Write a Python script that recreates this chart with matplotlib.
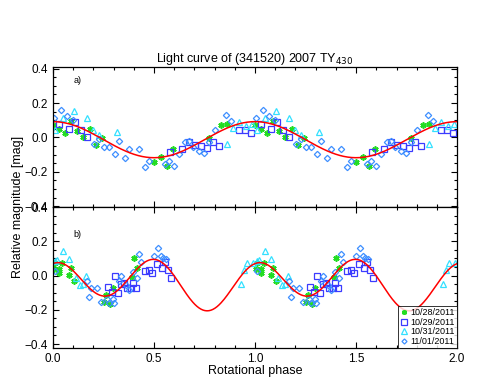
import numpy as np
import matplotlib
matplotlib.use('Agg')
import matplotlib.pyplot as plt
from matplotlib.ticker import MultipleLocator

plt.rcParams['font.family'] = ['Liberation Sans', 'DejaVu Sans']

# ── data (phase 0-1, repeated at +1) ────────────────────────────────────────
dates = ['10/28/2011', '10/29/2011', '10/31/2011', '11/01/2011']

# panel a) single-period fold
a_ph_1028 = [0.002, 0.028, 0.059, 0.087, 0.120, 0.150, 0.183, 0.213, 0.244,
             0.500, 0.533, 0.563, 0.592, 0.771, 0.830, 0.863]
a_mag_1028 = [0.074, 0.050, 0.023, 0.094, 0.035, 0.000, 0.050, -0.046, -0.004,
              -0.143, -0.112, -0.166, -0.066, -0.004, 0.074, 0.077]

a_ph_1029 = [0.031, 0.079, 0.109, 0.139, 0.170, 0.579, 0.639, 0.672, 0.701,
             0.731, 0.764, 0.794, 0.823, 0.919, 0.949, 0.979]
a_mag_1029 = [0.081, 0.050, 0.089, 0.042, 0.000, -0.085, -0.070, -0.027, -0.043,
              -0.050, -0.062, -0.027, -0.050, 0.042, 0.046, 0.027]

a_ph_1031 = [0.012, 0.048, 0.104, 0.167, 0.196, 0.229, 0.318, 0.863, 0.889,
             0.922, 0.955, 0.985]
a_mag_1031 = [0.045, 0.112, 0.151, 0.116, 0.042, 0.016, 0.031, -0.039, 0.054,
              0.089, 0.066, 0.077]

a_ph_1101 = [0.005, 0.038, 0.068, 0.097, 0.203, 0.226, 0.252, 0.276, 0.305,
             0.328, 0.355, 0.378, 0.427, 0.454, 0.477, 0.553, 0.576, 0.599,
             0.625, 0.652, 0.675, 0.695, 0.724, 0.748, 0.774, 0.800, 0.856,
             0.880]
a_mag_1101 = [0.112, 0.162, 0.124, 0.104, -0.039, -0.012, -0.054, -0.054, -0.097,
              -0.023, -0.120, -0.070, -0.066, -0.170, -0.139, -0.155, -0.139, -0.166,
              -0.097, -0.027, -0.023, -0.054, -0.081, -0.089, -0.027, 0.042, 0.131,
              0.097]

# panel b) double-period fold
b_ph_1028 = [0.005, 0.008, 0.028, 0.031, 0.045, 0.078, 0.091, 0.104, 0.252,
             0.262, 0.282, 0.299, 0.391, 0.401, 0.417]
b_mag_1028 = [0.037, 0.071, 0.041, 0.017, 0.075, 0.002, 0.045, -0.029, -0.155,
              -0.116, -0.166, -0.073, -0.008, 0.100, 0.046]

b_ph_1029 = [0.272, 0.292, 0.305, 0.322, 0.335, 0.351, 0.368, 0.385, 0.398,
             0.411, 0.457, 0.474, 0.490, 0.513, 0.540, 0.556, 0.569, 0.586]
b_mag_1029 = [-0.066, -0.097, -0.004, -0.100, -0.050, -0.046, -0.070, -0.070, -0.046,
              -0.070, 0.027, 0.031, 0.012, 0.066, 0.042, 0.077, 0.035, -0.012]

b_ph_1031 = [0.012, 0.018, 0.051, 0.081, 0.114, 0.134, 0.147, 0.163, 0.931,
             0.944, 0.960, 0.990]
b_mag_1031 = [0.083, 0.093, 0.141, 0.097, -0.015, -0.058, -0.052, -0.004, -0.052,
              0.033, 0.075, 0.071]

b_ph_1101 = [0.012, 0.170, 0.180, 0.190, 0.216, 0.236, 0.266, 0.279, 0.296,
             0.302, 0.328, 0.338, 0.361, 0.375, 0.398, 0.414, 0.427, 0.437,
             0.500, 0.520, 0.533, 0.546, 0.559]
b_mag_1101 = [0.025, -0.031, -0.124, -0.070, -0.070, -0.155, -0.139, -0.162, -0.135,
              -0.162, -0.031, -0.004, -0.058, -0.085, 0.023, -0.015, 0.124, 0.081,
              0.116, 0.158, 0.112, 0.100, 0.097]

# Fourier fit: mean, (amplitude, phase) for 1st and 2nd harmonic
a_fit = [-0.013, (0.105, 0.0), (0.0, 0.0)]
b_fit = [-0.040, (0.044, 0.295), (0.123, 0.010)]

# ── styles per night ────────────────────────────────────────────────────────
styles = [
    dict(marker=(6, 2, 0), color='#22dd22', ms=4.5, mew=1.2, mfc='none'),
    dict(marker='s', color='#3b3bff', ms=5, mew=0.9, mfc='none'),
    dict(marker='^', color='#33e0ff', ms=5, mew=0.9, mfc='none'),
    dict(marker='D', color='#3d8fff', ms=3.2, mew=0.9, mfc='none'),
]


def fit_curve(phase, fit):
    y = np.full_like(phase, fit[0])
    for k, (amp, ph0) in enumerate(fit[1:], start=1):
        y += amp * np.cos(2 * np.pi * k * (phase - ph0))
    return y


def style_axis(ax, ylim):
    ax.set_xlim(0, 2)
    ax.set_ylim(*ylim)
    ax.xaxis.set_major_locator(MultipleLocator(0.5))
    ax.xaxis.set_minor_locator(MultipleLocator(0.1))
    ax.yaxis.set_major_locator(MultipleLocator(0.2))
    ax.yaxis.set_minor_locator(MultipleLocator(0.05))
    ax.tick_params(which='both', direction='in', top=True, right=True,
                   labelsize=8.5, width=0.8)
    ax.tick_params(which='major', length=4.5)
    ax.tick_params(which='minor', length=2.5)
    for s in ax.spines.values():
        s.set_linewidth(0.9)


fig = plt.figure(figsize=(4.91, 3.79), dpi=100)
ax_a = fig.add_axes([0.108, 0.4538, 0.823, 0.3694])
ax_b = fig.add_axes([0.108, 0.0818, 0.823, 0.3720])

phase_grid = np.linspace(0, 2, 400)

panels = [
    (ax_a, [(a_ph_1028, a_mag_1028), (a_ph_1029, a_mag_1029),
            (a_ph_1031, a_mag_1031), (a_ph_1101, a_mag_1101)], a_fit, 'a)', 0.33),
    (ax_b, [(b_ph_1028, b_mag_1028), (b_ph_1029, b_mag_1029),
            (b_ph_1031, b_mag_1031), (b_ph_1101, b_mag_1101)], b_fit, 'b)', 0.24),
]

for ax, series, fit, tag, tag_y in panels:
    for (ph, mag), st, lab in zip(series, styles, dates):
        ph = np.array(ph)
        mag = np.array(mag)
        ax.plot(np.concatenate([ph, ph + 1]), np.concatenate([mag, mag]),
                ls='none', label=lab, **st)
    ax.plot(phase_grid, fit_curve(phase_grid, fit), color='red', lw=1.1)
    ax.text(0.1, tag_y, tag, fontsize=6.5, va='center')

style_axis(ax_a, (-0.405, 0.41))
style_axis(ax_b, (-0.423, 0.40))
ax_a.tick_params(labelbottom=False)

ax_a.set_title('Light curve of (341520) 2007 TY$_{430}$', fontsize=9, pad=3)
ax_b.set_xlabel('Rotational phase', fontsize=9, labelpad=0)
fig.text(0.037, 0.455, 'Relative magnitude [mag]', rotation=90,
         ha='center', va='center', fontsize=9)

leg = ax_b.legend(loc='lower right', fontsize=6.5, frameon=True, fancybox=False,
                  borderaxespad=0, handlelength=0.8, handletextpad=0.3,
                  borderpad=0.25, labelspacing=0.05, markerscale=0.8)
leg.get_frame().set_edgecolor('black')
leg.get_frame().set_linewidth(0.7)

fig.savefig('out.png', dpi=100)
